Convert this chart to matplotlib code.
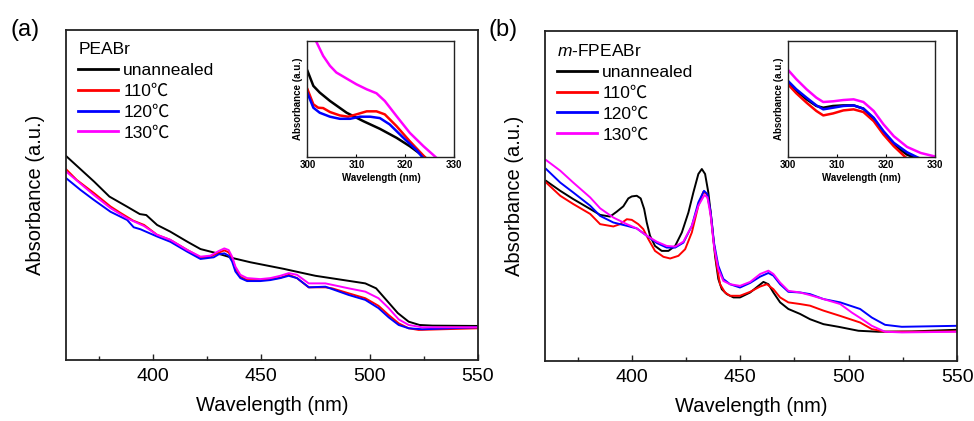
import numpy as np
import matplotlib
matplotlib.use('Agg')
import matplotlib.pyplot as plt

plt.rcParams['font.family'] = ['Liberation Sans', 'Noto Sans CJK SC', 'DejaVu Sans']
plt.rcParams['mathtext.fontset'] = 'custom'
plt.rcParams['mathtext.it'] = 'Liberation Sans:italic'
plt.rcParams['mathtext.rm'] = 'Liberation Sans'

labels = ['unannealed', '110\u2103', '120\u2103', '130\u2103']
colors = ['#000000', '#ff0000', '#0000ff', '#ff00ff']

# ---- panel (a): PEABr ----
a_black_wl = [360, 367, 373, 380, 388, 394, 397, 402, 408, 416, 422, 429.7, 437.3, 445, 452.7, 460.4, 468,
              475, 490, 498, 503, 507, 513, 518, 523, 529, 550]
a_black = [0.618, 0.576, 0.540, 0.495, 0.465, 0.442, 0.439, 0.409, 0.389, 0.358, 0.336, 0.323, 0.308,
           0.296, 0.286, 0.276, 0.265, 0.255, 0.240, 0.232, 0.217, 0.187, 0.142, 0.116, 0.106, 0.104, 0.103]
a_red_wl = [360, 365, 373, 380.5, 385, 391, 396, 402, 408, 416, 422, 426.6, 430.4, 433, 435, 436.6, 438.1,
            440.4, 443.5, 449.6, 454.2, 458.8, 462.7, 466.5, 471.9, 479.6, 482.7, 490.3, 498, 504.1, 508.8,
            513.4, 518, 522.6, 550]
a_red = [0.578, 0.545, 0.505, 0.465, 0.446, 0.422, 0.409, 0.379, 0.364, 0.333, 0.311, 0.313, 0.325, 0.332,
         0.326, 0.308, 0.278, 0.252, 0.242, 0.242, 0.245, 0.249, 0.258, 0.248, 0.220, 0.220, 0.217, 0.202,
         0.187, 0.164, 0.136, 0.111, 0.096, 0.091, 0.096]
a_blue_wl = [360, 366.7, 372.8, 380.5, 388.2, 391.2, 394.3, 402, 408.1, 415.9, 422, 428.1, 430.4, 433, 435,
             436.6, 438.1, 440.4, 443.5, 449.6, 454.2, 458.8, 462.7, 466.5, 472, 479.6, 490.3, 498, 504.1,
             508.8, 513.4, 518, 524.2, 550]
a_blue = [0.551, 0.515, 0.485, 0.449, 0.424, 0.402, 0.396, 0.374, 0.358, 0.328, 0.306, 0.311, 0.320, 0.323,
          0.316, 0.298, 0.268, 0.248, 0.239, 0.239, 0.242, 0.248, 0.255, 0.248, 0.220, 0.222, 0.197, 0.182,
          0.157, 0.129, 0.106, 0.096, 0.093, 0.099]
a_mag_wl = [360, 372.8, 380.5, 388.2, 395.9, 402, 408.1, 415.9, 422, 426.6, 430.4, 433, 435, 436.6, 438.1,
            440.4, 443.5, 449.6, 454.2, 458.8, 462.7, 466.5, 471.9, 479.6, 490.3, 498, 504.1, 508.8, 513.4,
            518, 524.2, 550]
a_mag = [0.571, 0.500, 0.460, 0.429, 0.406, 0.379, 0.364, 0.333, 0.313, 0.316, 0.330, 0.338, 0.333, 0.313,
         0.283, 0.258, 0.248, 0.245, 0.248, 0.255, 0.263, 0.258, 0.232, 0.232, 0.217, 0.207, 0.187, 0.157,
         0.123, 0.106, 0.099, 0.099]

# ---- panel (b): m-FPEABr ----
b_black_wl = [360.5, 367, 373, 380.8, 385.4, 390, 393.1, 396.1, 398.4, 400, 402.3, 404.1, 405.7, 406.9,
              408.4, 410.7, 413.8, 416.9, 420, 423.1, 426.1, 428.4, 430.7, 432.3, 433.8, 435.3, 436.9, 438.4,
              439.9, 441.5, 443.8, 446.9, 449.9, 454.6, 458.4, 460.7, 463, 465.3, 468.4, 472.2, 477.6, 482.2,
              488.4, 495.3, 504.5, 513.7, 529.1, 550]
b_black = [0.545, 0.515, 0.490, 0.460, 0.442, 0.437, 0.452, 0.468, 0.492, 0.498, 0.500, 0.492, 0.460, 0.419,
           0.379, 0.348, 0.333, 0.333, 0.348, 0.389, 0.449, 0.510, 0.566, 0.581, 0.566, 0.510, 0.419, 0.318,
           0.248, 0.217, 0.202, 0.192, 0.192, 0.207, 0.227, 0.239, 0.232, 0.207, 0.177, 0.157, 0.142, 0.126,
           0.111, 0.103, 0.091, 0.088, 0.089, 0.094]
b_red_wl = [360.5, 367, 373, 380.8, 385.4, 391.5, 394.6, 397.7, 400, 403, 405.3, 407.6, 410.7, 414.6, 417.7,
            421.5, 424.6, 427.7, 430.7, 433, 434.6, 436.1, 437.6, 439.2, 440.7, 443, 445.3, 449.9, 454.6,
            459.2, 462.3, 465.3, 468.4, 472.2, 477.6, 482.2, 488.4, 496.1, 505.3, 510.7, 516.8, 529.1, 550]
b_red = [0.540, 0.500, 0.475, 0.445, 0.414, 0.407, 0.414, 0.429, 0.427, 0.414, 0.399, 0.369, 0.333, 0.315,
         0.310, 0.318, 0.338, 0.389, 0.470, 0.512, 0.505, 0.460, 0.369, 0.288, 0.232, 0.207, 0.197, 0.197,
         0.209, 0.225, 0.232, 0.217, 0.192, 0.177, 0.172, 0.167, 0.152, 0.136, 0.116, 0.096, 0.088, 0.088,
         0.089]
b_blue_wl = [360.5, 367, 373, 380.8, 385.4, 391.5, 397.7, 402.3, 406.9, 411.5, 416.1, 420, 423.8, 427.7,
             430.7, 433.3, 434.9, 436.4, 437.9, 439.9, 442.2, 445.3, 449.9, 454.6, 459.2, 463, 465.3, 468.4,
             472.2, 477.6, 482.2, 488.4, 496.1, 505.3, 510.7, 516.8, 524.5, 550]
b_blue = [0.581, 0.540, 0.510, 0.470, 0.439, 0.419, 0.409, 0.401, 0.379, 0.357, 0.343, 0.343, 0.358, 0.409,
          0.480, 0.515, 0.505, 0.449, 0.358, 0.288, 0.248, 0.232, 0.222, 0.236, 0.255, 0.266, 0.258, 0.232,
          0.209, 0.207, 0.202, 0.187, 0.177, 0.157, 0.131, 0.109, 0.103, 0.106]
b_mag_wl = [360.5, 367, 373, 380.8, 385.4, 391.5, 397.7, 402.3, 406.9, 411.5, 416.1, 420, 423.8, 427.7,
            430.7, 433.5, 434.9, 436.4, 437.9, 439.9, 442.2, 445.3, 449.9, 454.6, 459.2, 463, 465.3, 468.4,
            472.2, 477.6, 482.2, 488.4, 496.1, 501.5, 506, 510.7, 516.8, 524.5, 550]
b_mag = [0.608, 0.576, 0.540, 0.495, 0.462, 0.434, 0.414, 0.401, 0.379, 0.361, 0.348, 0.346, 0.361, 0.409,
         0.470, 0.502, 0.495, 0.439, 0.348, 0.278, 0.242, 0.232, 0.227, 0.239, 0.263, 0.273, 0.263, 0.237,
         0.212, 0.207, 0.199, 0.187, 0.172, 0.146, 0.127, 0.106, 0.088, 0.086, 0.088]

# ---- insets (300-330 nm) ----
ia_black_wl = [300, 301.2, 302.5, 304.6, 308, 311.4, 314.8, 318.2, 320.9, 323.7, 325.5]
ia_black = [0.741, 0.612, 0.555, 0.483, 0.382, 0.31, 0.244, 0.167, 0.095, 0.009, -0.05]
ia_red_wl = [300, 301.2, 302.2, 303.2, 304.6, 306.6, 308.3, 310, 312.1, 314.1, 315.8, 318.2, 320.9, 323.7, 325]
ia_red = [0.583, 0.454, 0.425, 0.422, 0.388, 0.359, 0.348, 0.368, 0.394, 0.394, 0.368, 0.267, 0.138, 0.014, -0.04]
ia_blue_wl = [300, 301.2, 302.5, 304.6, 306.6, 308.7, 310.7, 312.8, 314.8, 316.8, 319.6, 322.3, 323.5, 325]
ia_blue = [0.549, 0.425, 0.382, 0.348, 0.33, 0.33, 0.348, 0.348, 0.336, 0.282, 0.167, 0.06, 0.0, -0.05]
ia_mag_wl = [300, 301.7, 303.2, 304.6, 305.9, 308, 310, 312.1, 314.1, 315.8, 318.2, 320.9, 323.7, 326, 327.5]
ia_mag = [1.12, 1.0, 0.87, 0.784, 0.727, 0.675, 0.626, 0.583, 0.549, 0.483, 0.353, 0.21, 0.095, 0.009, -0.05]

ib_wl = [300, 301.7, 303.8, 305.8, 307.2, 309.2, 311.3, 313.4, 315.4, 317.5, 319.5, 321.6]
ib_black_wl = ib_wl + [324.3, 325.7, 327]
ib_black = [0.641, 0.569, 0.497, 0.44, 0.425, 0.44, 0.445, 0.445, 0.417, 0.33, 0.21, 0.109, 0.023, 0.0, -0.03]
ib_red_wl = ib_wl + [324, 325.5]
ib_red = [0.626, 0.549, 0.468, 0.397, 0.359, 0.376, 0.402, 0.411, 0.388, 0.31, 0.195, 0.095, 0.0, -0.04]
ib_blue_wl = ib_wl + [324.3, 326.4, 328]
ib_blue = [0.655, 0.583, 0.511, 0.445, 0.411, 0.425, 0.44, 0.445, 0.417, 0.339, 0.224, 0.124, 0.043, 0.0, -0.03]
ib_mag_wl = ib_wl + [324.3, 327.1, 329.8]
ib_mag = [0.75, 0.67, 0.583, 0.511, 0.474, 0.48, 0.491, 0.497, 0.474, 0.397, 0.282, 0.181, 0.089, 0.037, 0.009]

panels = [
    dict(pos=[0.0678, 0.145, 0.423, 0.784], inset=[0.3157, 0.6264, 0.1507, 0.277], tag='(a)', tagx=10,
         title='PEABr',
         main=[(a_black_wl, a_black), (a_red_wl, a_red), (a_blue_wl, a_blue), (a_mag_wl, a_mag)],
         ins=[(ia_black_wl, ia_black), (ia_red_wl, ia_red), (ia_blue_wl, ia_blue), (ia_mag_wl, ia_mag)]),
    dict(pos=[0.5596, 0.143, 0.423, 0.784], inset=[0.809, 0.6264, 0.1509, 0.277], tag='(b)', tagx=488,
         title='$m$-FPEABr',
         main=[(b_black_wl, b_black), (b_red_wl, b_red), (b_blue_wl, b_blue), (b_mag_wl, b_mag)],
         ins=[(ib_black_wl, ib_black), (ib_red_wl, ib_red), (ib_blue_wl, ib_blue), (ib_mag_wl, ib_mag)]),
]

fig = plt.figure(figsize=(9.74, 4.21), dpi=100)
edge = '#222222'

for p in panels:
    ax = fig.add_axes(p['pos'])
    handles = []
    for (x, y), c, lab in zip(p['main'], colors, labels):
        h, = ax.plot(x, y, color=c, lw=1.4, label=lab, solid_joinstyle='round')
        handles.append(h)
    ax.set_xlim(360, 550)
    ax.set_ylim(0, 1)
    ax.set_xticks([400, 450, 500, 550])
    ax.set_xticks([375, 425, 475, 525], minor=True)
    ax.set_yticks([])
    ax.tick_params(axis='x', which='major', direction='in', length=4, width=1, labelsize=14, pad=6, color=edge)
    ax.tick_params(axis='x', which='minor', direction='in', length=3, width=1, color=edge)
    for s in ax.spines.values():
        s.set_linewidth(1.3)
        s.set_color(edge)
    ax.set_xlabel('Wavelength (nm)', fontsize=14.5, labelpad=8)
    ax.set_ylabel('Absorbance (a.u.)', fontsize=14.5, labelpad=15)
    leg = ax.legend(handles=handles, title=p['title'], loc='upper left', frameon=False, fontsize=12.5,
                    title_fontsize=12.5, alignment='left', handlelength=2.3, handletextpad=0.3,
                    labelspacing=0.33, borderaxespad=0.2, borderpad=0.5)
    for line in leg.get_lines():
        line.set_linewidth(2)
    fig.text(p['tagx'] / 974, 1 - 30 / 421, p['tag'], fontsize=17, ha='left', va='center')

    ins = fig.add_axes(p['inset'])
    for (x, y), c in zip(p['ins'], colors):
        ins.plot(x, y, color=c, lw=1.8, solid_joinstyle='round')
    ins.set_xlim(300, 330)
    ins.set_ylim(0, 1)
    ins.set_xticks([300, 310, 320, 330])
    ins.set_yticks([])
    ins.tick_params(axis='x', direction='in', length=2, width=0.8, labelsize=7, pad=2)
    for t in ins.get_xticklabels():
        t.set_fontweight('bold')
    for s in ins.spines.values():
        s.set_linewidth(1.0)
        s.set_color(edge)
    ins.set_xlabel('Wavelength (nm)', fontsize=7, fontweight='bold', labelpad=2)
    ins.set_ylabel('Absorbance (a.u.)', fontsize=7, fontweight='bold', labelpad=3)

fig.savefig('out.png', dpi=100)
